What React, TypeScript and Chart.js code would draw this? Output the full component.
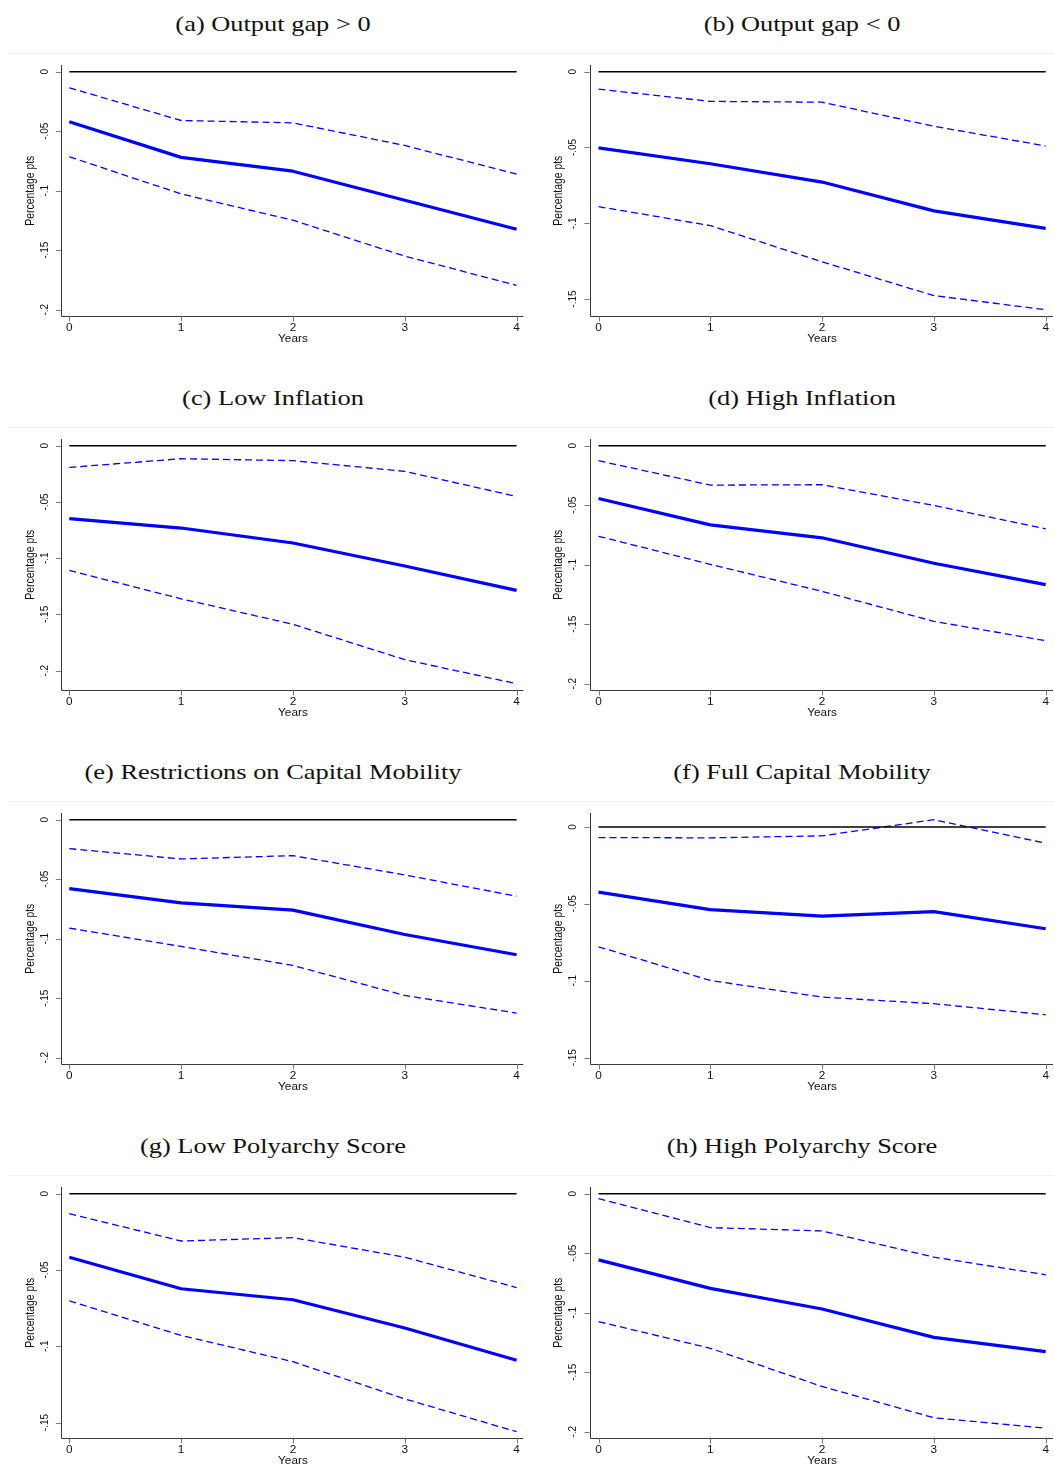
import React, { useEffect, useRef } from "react";
import { Chart, registerables } from "chart.js";

Chart.register(...registerables);

// ---------- data ----------
const years = [0, 1, 2, 3, 4];
const zeroLine = [0, 0, 0, 0, 0];

const titles = [
  "(a) Output gap > 0",
  "(b) Output gap < 0",
  "(c) Low Inflation",
  "(d) High Inflation",
  "(e) Restrictions on Capital Mobility",
  "(f) Full Capital Mobility",
  "(g) Low Polyarchy Score",
  "(h) High Polyarchy Score",
];

const xTickLabels = ["0", "1", "2", "3", "4"];
const xAxisTitle = "Years";
const yAxisTitle = "Percentage pts";

const ticksTo20 = [0, -0.05, -0.1, -0.15, -0.2];
const labelsTo20 = ["0", "-.05", "-.1", "-.15", "-.2"];
const ticksTo15 = [0, -0.05, -0.1, -0.15];
const labelsTo15 = ["0", "-.05", "-.1", "-.15"];

const midA = [-0.042, -0.072, -0.0836, -0.108, -0.1324];
const upA = [-0.0135, -0.041, -0.043, -0.062, -0.086];
const loA = [-0.0715, -0.1027, -0.1248, -0.155, -0.1795];

const midB = [-0.0503, -0.0607, -0.0728, -0.0918, -0.1033];
const upB = [-0.0115, -0.0196, -0.0201, -0.036, -0.049];
const loB = [-0.089, -0.1015, -0.1254, -0.1477, -0.157];

const midC = [-0.0649, -0.0732, -0.0865, -0.107, -0.1286];
const upC = [-0.0193, -0.0116, -0.0133, -0.0228, -0.0451];
const loC = [-0.1109, -0.1361, -0.1588, -0.1902, -0.2116];

const midD = [-0.0444, -0.0665, -0.0774, -0.0988, -0.1167];
const upD = [-0.0126, -0.0331, -0.0328, -0.0502, -0.0699];
const loD = [-0.0761, -0.0997, -0.1224, -0.1476, -0.1639];

const midE = [-0.0579, -0.0699, -0.076, -0.0965, -0.1135];
const upE = [-0.0243, -0.033, -0.0302, -0.0464, -0.0643];
const loE = [-0.0911, -0.1065, -0.1225, -0.1477, -0.1625];

const midF = [-0.0424, -0.0537, -0.058, -0.055, -0.0662];
const upF = [-0.0069, -0.0071, -0.0058, 0.0047, -0.0106];
const loF = [-0.0779, -0.0998, -0.1106, -0.1149, -0.1221];

const midG = [-0.0416, -0.0623, -0.0695, -0.088, -0.1092];
const upG = [-0.0131, -0.031, -0.0288, -0.0416, -0.0615];
const loG = [-0.0702, -0.0929, -0.1101, -0.1345, -0.156];

const midH = [-0.0556, -0.0796, -0.0969, -0.1207, -0.1327];
const upH = [-0.0042, -0.0285, -0.0313, -0.0533, -0.0681];
const loH = [-0.1075, -0.1299, -0.162, -0.1883, -0.197];

const panelData = [
  { mid: midA, up: upA, lo: loA, ticks: ticksTo20, labels: labelsTo20 },
  { mid: midB, up: upB, lo: loB, ticks: ticksTo15, labels: labelsTo15 },
  { mid: midC, up: upC, lo: loC, ticks: ticksTo20, labels: labelsTo20 },
  { mid: midD, up: upD, lo: loD, ticks: ticksTo20, labels: labelsTo20 },
  { mid: midE, up: upE, lo: loE, ticks: ticksTo20, labels: labelsTo20 },
  { mid: midF, up: upF, lo: loF, ticks: ticksTo15, labels: labelsTo15 },
  { mid: midG, up: upG, lo: loG, ticks: ticksTo15, labels: labelsTo15 },
  { mid: midH, up: upH, lo: loH, ticks: ticksTo20, labels: labelsTo20 },
];

// ---------- layout ----------
const ROW_STEP = 374.1;
const CANVAS_H = 300;
const PAD_TOP = 10;

const columns = [
  { left: 0, width: 530, padLeft: 60.9, padRight: 6.7, mL: 8.4, mR: 6.7, plotTop0: 65.1, plotH: 251.4, yMargin: 6.7, titleCenter: 272.5 },
  { left: 530, width: 524, padLeft: 59.5, padRight: 1, mL: 9, mR: 7.3, plotTop0: 65.1, plotH: 251.4, yMargin: 6.7, titleCenter: 802 },
];

const SANS = "'Liberation Sans', Arial, sans-serif";
const SERIF = "'Liberation Serif', 'Times New Roman', serif";
const BLUE = "#0000ff";
const STRETCH = 1.18;

function drawText(ctx: CanvasRenderingContext2D, text: string, x: number, y: number, size: number, rotated: boolean) {
  ctx.save();
  ctx.translate(x, y);
  ctx.scale(STRETCH, 1);
  if (rotated) ctx.rotate(-Math.PI / 2);
  ctx.font = `${size}px ${SANS}`;
  ctx.textAlign = "center";
  ctx.textBaseline = "middle";
  ctx.fillStyle = "#111";
  ctx.fillText(text, 0, 0);
  ctx.restore();
}

function Panel({ index }: { index: number }) {
  const ref = useRef<HTMLCanvasElement | null>(null);
  const col = columns[index % 2];
  const row = Math.floor(index / 2);
  const d = panelData[index];

  useEffect(() => {
    if (!ref.current) return;
    const all = [...d.mid, ...d.up, ...d.lo, ...d.ticks];
    const lo = Math.min(...all);
    const hi = Math.max(...all);
    const vpp = (hi - lo) / (col.plotH - 2 * col.yMargin);
    const yMin = lo - col.yMargin * vpp;
    const yMax = hi + col.yMargin * vpp;

    const plotW = col.width - col.padLeft - col.padRight;
    const pxPerYear = (plotW - col.mL - col.mR) / (years.length - 1);
    const xMin = years[0] - col.mL / pxPerYear;
    const xMax = years[years.length - 1] + col.mR / pxPerYear;

    const toPts = (arr: number[]) => years.map((x, i) => ({ x, y: arr[i] }));

    const axesPlugin = {
      id: "stataAxes",
      afterDraw(chart: any) {
        const ctx: CanvasRenderingContext2D = chart.ctx;
        const a = chart.chartArea;
        const xs = chart.scales.x;
        const ys = chart.scales.y;
        ctx.save();
        ctx.strokeStyle = "#3a3a3a";
        ctx.lineWidth = 1;
        ctx.beginPath();
        ctx.moveTo(Math.round(a.left) + 0.5, a.top);
        ctx.lineTo(Math.round(a.left) + 0.5, Math.round(a.bottom) + 0.5);
        ctx.lineTo(a.right, Math.round(a.bottom) + 0.5);
        ctx.stroke();
        ctx.strokeStyle = "#777";
        d.ticks.forEach((v: number, i: number) => {
          const py = ys.getPixelForValue(v);
          ctx.beginPath();
          ctx.moveTo(a.left - 5, Math.round(py) + 0.5);
          ctx.lineTo(a.left, Math.round(py) + 0.5);
          ctx.stroke();
          drawText(ctx, d.labels[i], a.left - 16.6, py, 10, true);
        });
        years.forEach((v, i) => {
          const px = xs.getPixelForValue(v);
          ctx.beginPath();
          ctx.moveTo(Math.round(px) + 0.5, a.bottom);
          ctx.lineTo(Math.round(px) + 0.5, a.bottom + 5);
          ctx.stroke();
          drawText(ctx, xTickLabels[i], px, a.bottom + 11.5, 10, false);
        });
        const midX = (xs.getPixelForValue(years[0]) + xs.getPixelForValue(years[years.length - 1])) / 2;
        drawText(ctx, xAxisTitle, midX, a.bottom + 22.5, 10, false);
        drawText(ctx, yAxisTitle, a.left - 30.6, (a.top + a.bottom) / 2, 10.4, true);
        ctx.restore();
      },
    };

    const chart = new Chart(ref.current, {
      type: "line",
      data: {
        datasets: [
          { data: toPts(zeroLine), borderColor: "#000", borderWidth: 1.4, pointRadius: 0 },
          { data: toPts(d.up), borderColor: BLUE, borderWidth: 1.3, borderDash: [7, 4], pointRadius: 0 },
          { data: toPts(d.lo), borderColor: BLUE, borderWidth: 1.3, borderDash: [7, 4], pointRadius: 0 },
          { data: toPts(d.mid), borderColor: BLUE, borderWidth: 3.2, pointRadius: 0, borderJoinStyle: "round" },
        ],
      },
      options: {
        animation: false,
        responsive: false,
        devicePixelRatio: 1,
        layout: {
          padding: {
            left: col.padLeft,
            right: col.padRight,
            top: PAD_TOP,
            bottom: CANVAS_H - PAD_TOP - col.plotH,
          },
        },
        elements: { line: { tension: 0, fill: false } },
        plugins: { legend: { display: false }, tooltip: { enabled: false }, title: { display: false } },
        scales: {
          x: { type: "linear", min: xMin, max: xMax, display: false },
          y: { type: "linear", min: yMin, max: yMax, display: false },
        },
      } as any,
      plugins: [axesPlugin],
    });
    return () => chart.destroy();
  }, [index]);

  const canvasTop = col.plotTop0 + row * ROW_STEP - PAD_TOP;
  return (
    <>
      <div
        style={{
          position: "absolute",
          left: col.titleCenter - 260,
          width: 520,
          top: 12.6 + row * ROW_STEP,
          height: 22,
          lineHeight: "22px",
          fontFamily: SERIF,
          fontSize: 22,
          color: "#111",
          textAlign: "center",
          whiteSpace: "nowrap",
          transform: "scaleX(1.2)",
          transformOrigin: "center",
        }}
      >
        {titles[index]}
      </div>
      <canvas
        ref={ref}
        width={col.width}
        height={CANVAS_H}
        style={{ position: "absolute", left: col.left, top: canvasTop, width: col.width, height: CANVAS_H }}
      />
    </>
  );
}

export default function App() {
  return (
    <div style={{ position: "absolute", left: 0, top: 0, width: 1054, height: 1472, background: "#fff", overflow: "hidden" }}>
      {[0, 1, 2, 3].map((r) => (
        <div
          key={"sep" + r}
          style={{ position: "absolute", left: 8, width: 1046, top: 53 + r * ROW_STEP, height: 1, background: "#f0f0f0" }}
        />
      ))}
      {titles.map((_, i) => (
        <Panel key={i} index={i} />
      ))}
    </div>
  );
}
